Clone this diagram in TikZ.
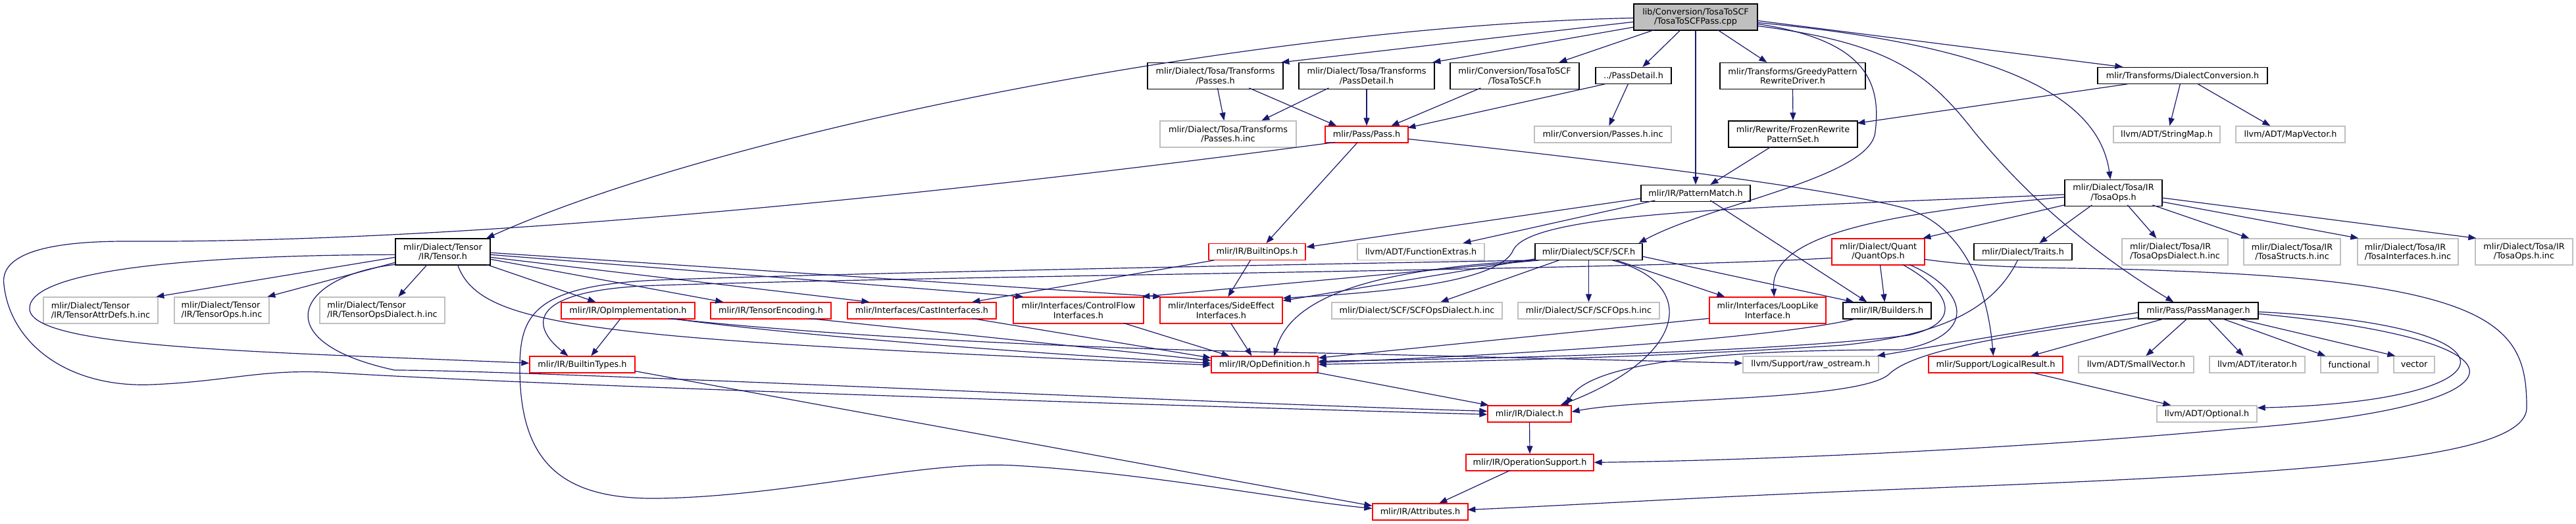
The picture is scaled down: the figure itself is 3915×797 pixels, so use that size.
\documentclass[tikz,border=0pt]{standalone}
\usepackage{fontspec}
\setmainfont{DejaVu Sans}
\usetikzlibrary{calc,arrows.meta}
\definecolor{edgeblue}{HTML}{191970}
\definecolor{extgray}{HTML}{BFBFBF}
\definecolor{rootgray}{HTML}{BFBFBF}
\newcommand\dgfont{\fontsize{12.8pt}{14.5pt}\selectfont}
\begin{document}
\begin{tikzpicture}[x=1pt,y=-1pt,
  nb/.style={rectangle, inner sep=0pt, line width=1.3pt, font=\dgfont, align=center},
  doc/.style={nb, draw=black},
  trunc/.style={nb, draw=red},
  ext/.style={nb, draw=extgray},
  rootn/.style={nb, draw=black, fill=rootgray},
  hone/.style={minimum height=25pt},
  htwo/.style={minimum height=40pt},
  ed/.style={draw=edgeblue, line width=1.2pt, -{Triangle[length=12pt,width=9pt]}}]
\fill[white] (0,0) rectangle (3915,797);
\useasboundingbox (0,0) rectangle (3915,797);

% ---------- nodes ----------
\node[rootn,htwo,minimum width=188pt] (root) at (2577,26) {lib/Conversion/TosaToSCF\\/TosaToSCFPass.cpp};
\node[doc,htwo,minimum width=206pt] (tpasses) at (1847,115.5) {mlir/Dialect/Tosa/Transforms\\/Passes.h};
\node[doc,htwo,minimum width=206pt] (tpassdetail) at (2077,115.5) {mlir/Dialect/Tosa/Transforms\\/PassDetail.h};
\node[doc,htwo,minimum width=196pt] (tosatoscf) at (2302,115.5) {mlir/Conversion/TosaToSCF\\/TosaToSCF.h};
\node[doc,hone,minimum width=115pt] (cpassdetail) at (2482.5,115) {../PassDetail.h};
\node[doc,htwo,minimum width=221pt] (greedy) at (2724.5,115.5) {mlir/Transforms/GreedyPattern\\RewriteDriver.h};
\node[doc,hone,minimum width=258pt] (dialconv) at (3317,115) {mlir/Transforms/DialectConversion.h};
\node[ext,htwo,minimum width=207pt] (tpassesinc) at (1866.5,204) {mlir/Dialect/Tosa/Transforms\\/Passes.h.inc};
\node[trunc,hone,minimum width=126pt] (pass) at (2077,204.5) {mlir/Pass/Pass.h};
\node[ext,hone,minimum width=208pt] (cpassesinc) at (2436,204.5) {mlir/Conversion/Passes.h.inc};
\node[doc,htwo,minimum width=196pt] (frozen) at (2725,204) {mlir/Rewrite/FrozenRewrite\\PatternSet.h};
\node[ext,hone,minimum width=162pt] (stringmap) at (3293,204.5) {llvm/ADT/StringMap.h};
\node[ext,hone,minimum width=166pt] (mapvector) at (3481,204.5) {llvm/ADT/MapVector.h};
\node[doc,hone,minimum width=166pt] (patternmatch) at (2577,294) {mlir/IR/PatternMatch.h};
\node[doc,htwo,minimum width=148pt] (tosaops) at (3212,293.5) {mlir/Dialect/Tosa/IR\\/TosaOps.h};
\node[doc,htwo,minimum width=144pt] (tensor) at (673,383) {mlir/Dialect/Tensor\\/IR/Tensor.h};
\node[trunc,hone,minimum width=147pt] (builtinops) at (1910.5,383) {mlir/IR/BuiltinOps.h};
\node[ext,hone,minimum width=193pt] (funcextras) at (2159.5,383) {llvm/ADT/FunctionExtras.h};
\node[doc,hone,minimum width=163pt] (scf) at (2414.5,383) {mlir/Dialect/SCF/SCF.h};
\node[trunc,htwo,minimum width=141pt] (quantops) at (2854.5,383) {mlir/Dialect/Quant\\/QuantOps.h};
\node[doc,hone,minimum width=149pt] (traits) at (3074.5,383) {mlir/Dialect/Traits.h};
\node[ext,htwo,minimum width=161pt,align=left] (tosaopsdialinc) at (3305.5,383) {mlir/Dialect/Tosa/IR\\/TosaOpsDialect.h.inc};
\node[ext,htwo,minimum width=147pt] (tosastructsinc) at (3483.5,383) {mlir/Dialect/Tosa/IR\\/TosaStructs.h.inc};
\node[ext,htwo,minimum width=153pt,align=left] (tosaifinc) at (3659.5,383) {mlir/Dialect/Tosa/IR\\/TosaInterfaces.h.inc};
\node[ext,htwo,minimum width=148pt] (tosaopsinc) at (3836,383) {mlir/Dialect/Tosa/IR\\/TosaOps.h.inc};
\node[ext,htwo,minimum width=174pt,align=left] (tattrdefsinc) at (153,472) {mlir/Dialect/Tensor\\/IR/TensorAttrDefs.h.inc};
\node[ext,htwo,minimum width=144pt,align=left] (topsinc) at (337,472) {mlir/Dialect/Tensor\\/IR/TensorOps.h.inc};
\node[ext,htwo,minimum width=190pt,align=left] (topsdialinc) at (581,472) {mlir/Dialect/Tensor\\/IR/TensorOpsDialect.h.inc};
\node[trunc,hone,minimum width=203pt] (opimpl) at (954.5,472.5) {mlir/IR/OpImplementation.h};
\node[trunc,hone,minimum width=183pt] (tensorenc) at (1171.5,472.5) {mlir/IR/TensorEncoding.h};
\node[trunc,hone,minimum width=226pt] (castif) at (1401,472.5) {mlir/Interfaces/CastInterfaces.h};
\node[trunc,htwo,minimum width=198pt] (cfif) at (1639,472) {mlir/Interfaces/ControlFlow\\Interfaces.h};
\node[trunc,htwo,minimum width=186pt] (seif) at (1856,472) {mlir/Interfaces/SideEffect\\Interfaces.h};
\node[ext,hone,minimum width=259pt] (scfdialinc) at (2153.5,472.5) {mlir/Dialect/SCF/SCFOpsDialect.h.inc};
\node[ext,hone,minimum width=215pt] (scfopsinc) at (2414.5,472.5) {mlir/Dialect/SCF/SCFOps.h.inc};
\node[trunc,htwo,minimum width=177pt] (looplike) at (2686.5,472) {mlir/Interfaces/LoopLike\\Interface.h};
\node[doc,hone,minimum width=134pt] (builders) at (2868,472.5) {mlir/IR/Builders.h};
\node[doc,hone,minimum width=182pt] (passmanager) at (3341,472.5) {mlir/Pass/PassManager.h};
\node[trunc,hone,minimum width=160pt] (builtintypes) at (885,554.5) {mlir/IR/BuiltinTypes.h};
\node[trunc,hone,minimum width=162pt] (opdef) at (1922,554.5) {mlir/IR/OpDefinition.h};
\node[ext,hone,minimum width=206pt] (rawostream) at (2752,554.5) {llvm/Support/raw\_ostream.h};
\node[trunc,hone,minimum width=204pt] (logicalresult) at (3033,554.5) {mlir/Support/LogicalResult.h};
\node[ext,hone,minimum width=175pt] (smallvector) at (3246.5,554.5) {llvm/ADT/SmallVector.h};
\node[ext,hone,minimum width=145pt] (iterator) at (3430.5,554.5) {llvm/ADT/iterator.h};
\node[ext,hone,minimum width=87pt] (functional) at (3570.5,554.5) {functional};
\node[ext,hone,minimum width=62pt] (vector) at (3669,554.5) {vector};
\node[trunc,hone,minimum width=127pt] (dialect) at (2324.5,629.5) {mlir/IR/Dialect.h};
\node[ext,hone,minimum width=152pt] (optional) at (3354,629.5) {llvm/ADT/Optional.h};
\node[trunc,hone,minimum width=194pt] (opsupport) at (2325,703.5) {mlir/IR/OperationSupport.h};
\node[trunc,hone,minimum width=145pt] (attributes) at (2158.5,778.5) {mlir/IR/Attributes.h};

% ---------- edges: root ----------
\draw[ed] ($(root.north west)+(0,22)$) .. controls (1900,40) and (1100,200) .. ($(tensor.north west)+(139,0)$);
\draw[ed] ($(root.north west)+(0,28)$) -- ($(tpasses.north west)+(204,0)$);
\draw[ed] ($(root.north west)+(0,36)$) -- ($(tpassdetail.north west)+(204,0)$);
\draw[ed] ($(root.north west)+(32,40)$) -- ($(tosatoscf.north west)+(166,0)$);
\draw[ed] ($(root.north west)+(72,40)$) -- ($(cpassdetail.north west)+(72,0)$);
\draw[ed] (root.south) -- (patternmatch.north);
\draw[ed] ($(root.north west)+(128,40)$) -- ($(greedy.north west)+(72,0)$);
\draw[ed] ($(root.north west)+(188,26)$) -- ($(dialconv.north west)+(39,0)$);
\draw[ed] ($(root.north west)+(188,29)$) .. controls (3050,70) and (3190,150) .. ($(tosaops.north west)+(70,0)$);
\draw[ed] ($(root.north west)+(188,34)$) .. controls (2870,65) and (2930,110) .. (3000,200) .. controls (3090,310) and (3190,390) .. ($(passmanager.north west)+(54,0)$);
\draw[ed] ($(root.north west)+(188,31)$) .. controls (2830,60) and (2860,120) .. (2850,200) .. controls (2845,270) and (2600,310) .. ($(scf.north west)+(158,0)$);

% ---------- row 1 ----------
\draw[ed] ($(tpasses.north west)+(107,39)$) -- ($(tpassesinc.north west)+(98,0)$);
\draw[ed] ($(tpasses.north west)+(155,39)$) -- ($(pass.north west)+(18,0)$);
\draw[ed] ($(tpassdetail.north west)+(46,39)$) -- ($(tpassesinc.north west)+(155,0)$);
\draw[ed] (tpassdetail.south) -- (pass.north);
\draw[ed] ($(tosatoscf.north west)+(47,39)$) -- ($(pass.north west)+(101,0)$);
\draw[ed] ($(cpassdetail.north west)+(15,26)$) -- ($(pass.north west)+(126,3)$);
\draw[ed] ($(cpassdetail.north west)+(50,26)$) -- ($(cpassesinc.north west)+(114,0)$);
\draw[ed] (greedy.south) -- (frozen.north);
\draw[ed] ($(dialconv.north west)+(46,26)$) -- ($(frozen.north west)+(196,4)$);
\draw[ed] ($(dialconv.north west)+(126,26)$) -- ($(stringmap.north west)+(86,0)$);
\draw[ed] ($(dialconv.north west)+(153,26)$) -- ($(mapvector.north west)+(53,0)$);
\draw[ed] ($(frozen.north west)+(65,40)$) -- ($(patternmatch.north west)+(106,0)$);

% ---------- Pass.h ----------
\draw[ed] ($(pass.north west)+(50,25)$) -- ($(builtinops.north west)+(88,0)$);
\draw[ed] ($(pass.north west)+(126,20)$) .. controls (2500,250) and (2800,290) .. (2900,318) .. controls (2980,345) and (3020,430) .. ($(logicalresult.north west)+(99,0)$);
\draw[ed] ($(pass.north west)+(16,25)$) .. controls (1400,300) and (700,370) .. (191,367) .. controls (60,367) and (0,390) .. (6,433) .. controls (15,520) and (100,590) .. (230,585) .. controls (350,580) and (400,560) .. (510,567) .. controls (800,585) and (1700,615) .. ($(dialect.north west)+(0,14)$);

% ---------- Tensor.h ----------
\draw[ed] ($(tensor.north west)+(0,29)$) -- ($(tattrdefsinc.north west)+(172,0)$);
\draw[ed] ($(tensor.north west)+(0,37)$) -- ($(topsinc.north west)+(142,0)$);
\draw[ed] ($(tensor.north west)+(49,40)$) -- ($(topsdialinc.north west)+(120,0)$);
\draw[ed] ($(tensor.north west)+(0,40)$) .. controls (450,420) and (400,520) .. (600,563) .. controls (800,563) and (1800,612) .. ($(dialect.north west)+(0,9)$);
\draw[ed] ($(tensor.north west)+(0,25)$) .. controls (300,388) and (42,410) .. (45,470) .. controls (48,530) and (400,535) .. ($(builtintypes.north west)+(0,11)$);
\draw[ed] ($(tensor.north west)+(139,40)$) -- ($(opimpl.north west)+(53,0)$);
\draw[ed] ($(tensor.north east)+(0,32)$) -- ($(tensorenc.north west)+(20,0)$);
\draw[ed] ($(tensor.north east)+(0,29)$) -- ($(castif.north west)+(34,0)$);
\draw[ed] ($(tensor.north east)+(0,25)$) -- ($(cfif.north west)+(16,0)$);
\draw[ed] ($(tensor.north east)+(0,22)$) -- ($(seif.north west)+(2,0)$);
\draw[ed] ($(tensor.north west)+(95,40)$) .. controls (730,500) and (900,515) .. ($(opdef.north west)+(0,14)$);

% ---------- interfaces / IR ----------
\draw[ed] ($(opimpl.north west)+(91,25)$) -- ($(builtintypes.north west)+(94,0)$);
\draw[ed] ($(opimpl.north west)+(168,25)$) .. controls (1200,510) and (1600,540) .. ($(opdef.north west)+(0,11)$);
\draw[ed] ($(opimpl.north west)+(163,25)$) .. controls (1300,515) and (1700,532) .. (2010,537) -- ($(rawostream.north west)+(0,11)$);
\draw[ed] ($(tensorenc.north west)+(150,25)$) -- ($(opdef.north west)+(0,7)$);
\draw[ed] ($(castif.north west)+(190,25)$) -- ($(opdef.north west)+(0,3)$);
\draw[ed] ($(cfif.north west)+(168,40)$) -- ($(opdef.north west)+(28,0)$);
\draw[ed] ($(seif.north west)+(108,40)$) -- ($(opdef.north west)+(62,0)$);
\draw[ed] ($(builtinops.north west)+(9,26)$) -- ($(castif.north west)+(190,0)$);
\draw[ed] ($(builtinops.north west)+(64,26)$) -- ($(seif.north west)+(104,0)$);

% ---------- PatternMatch.h ----------
\draw[ed] ($(patternmatch.north west)+(0,21)$) -- ($(builtinops.north west)+(149,6)$);
\draw[ed] ($(patternmatch.north west)+(22,24)$) -- ($(funcextras.north west)+(161,0)$);
\draw[ed] ($(patternmatch.north west)+(106,24)$) -- ($(builders.north west)+(37,0)$);

% ---------- SCF.h ----------
\draw[ed] ($(scf.north west)+(37,26)$) -- ($(scfdialinc.north west)+(166,0)$);
\draw[ed] (scf.south) -- (scfopsinc.north);
\draw[ed] ($(scf.north west)+(124,26)$) -- ($(looplike.north west)+(24,0)$);
\draw[ed] ($(scf.north west)+(163,20)$) -- ($(builders.north west)+(17,0)$);
\draw[ed] ($(scf.north west)+(118,26)$) .. controls (2580,430) and (2570,540) .. ($(dialect.north west)+(111,0)$);
\draw[ed] ($(scf.north west)+(7,26)$) -- ($(cfif.north west)+(196,0)$);
\draw[ed] ($(scf.north west)+(0,24)$) -- ($(seif.north east)+(0,6)$);
\draw[ed] ($(scf.north west)+(3,26)$) .. controls (2060,410) and (1960,460) .. ($(opdef.north west)+(96,0)$);
\draw[ed] ($(scf.north west)+(0,26)$) .. controls (1800,405) and (1200,418) .. (1000,426) .. controls (810,434) and (790,480) .. (790,560) .. controls (790,700) and (850,760) .. (1000,758) .. controls (1200,755) and (1400,700) .. (1542,708) .. controls (1750,720) and (1950,760) .. ($(attributes.north west)+(0,8)$);

% ---------- QuantOps.h ----------
\draw[ed] ($(quantops.north west)+(0,30)$) .. controls (2500,410) and (1500,418) .. (1000,434) .. controls (800,440) and (805,495) .. ($(builtintypes.north west)+(59,0)$);
\draw[ed] ($(quantops.north west)+(141,32)$) .. controls (3050,412) and (3150,405) .. (3300,412) .. controls (3800,430) and (3840,500) .. (3840,620) .. controls (3840,700) and (3500,720) .. (2915,743) .. controls (2600,755) and (2400,768) .. ($(attributes.north west)+(145,10)$);
\draw[ed] ($(quantops.north west)+(74,40)$) -- ($(builders.north west)+(64,0)$);
\draw[ed] ($(quantops.north west)+(108,40)$) .. controls (2960,440) and (2990,490) .. (2900,510) .. controls (2700,535) and (2300,545) .. ($(opdef.north east)+(0,8)$);
\draw[ed] ($(quantops.north west)+(118,40)$) .. controls (2990,440) and (3010,510) .. (2890,532) .. controls (2700,532) and (2420,540) .. ($(dialect.north west)+(120,0)$);

% ---------- TosaOps.h ----------
\draw[ed] ($(tosaops.north west)+(0,39)$) -- ($(quantops.north west)+(139,0)$);
\draw[ed] ($(tosaops.north west)+(42,39)$) -- ($(traits.north west)+(100,0)$);
\draw[ed] ($(tosaops.north west)+(96,39)$) -- ($(tosaopsdialinc.north west)+(53,0)$);
\draw[ed] ($(tosaops.north west)+(134,39)$) -- ($(tosastructsinc.north west)+(9,0)$);
\draw[ed] ($(tosaops.north west)+(148,34)$) -- ($(tosaifinc.north west)+(2,0)$);
\draw[ed] ($(tosaops.north west)+(148,28)$) -- ($(tosaopsinc.north west)+(2,0)$);
\draw[ed] ($(tosaops.north west)+(0,27)$) .. controls (2850,325) and (2690,360) .. ($(looplike.north west)+(99,0)$);
\draw[ed] ($(tosaops.north west)+(0,23)$) .. controls (2700,315) and (2330,320) .. (2300,380) .. controls (2280,430) and (2100,445) .. ($(seif.north east)+(0,2)$);

% ---------- Traits / LoopLike / Builders ----------
\draw[ed] ($(traits.north west)+(67,26)$) .. controls (3030,470) and (2950,510) .. (2800,525) .. controls (2500,545) and (2200,550) .. ($(opdef.north east)+(0,13)$);
\draw[ed] ($(looplike.north west)+(0,33)$) -- ($(opdef.north east)+(0,3)$);
\draw[ed] ($(builders.north west)+(22,25)$) .. controls (2700,515) and (2300,540) .. ($(opdef.north east)+(0,10)$);

% ---------- PassManager.h ----------
\draw[ed] ($(passmanager.north west)+(41,25)$) -- ($(logicalresult.north west)+(156,0)$);
\draw[ed] ($(passmanager.north west)+(75,25)$) -- ($(smallvector.north west)+(103,0)$);
\draw[ed] ($(passmanager.north west)+(106,25)$) -- ($(iterator.north west)+(52,0)$);
\draw[ed] ($(passmanager.north west)+(127,25)$) -- ($(functional.north west)+(8,0)$);
\draw[ed] ($(passmanager.north west)+(150,25)$) -- ($(vector.north west)+(3,0)$);
\draw[ed] ($(passmanager.north east)+(0,15)$) .. controls (3850,495) and (3830,610) .. ($(optional.north east)+(0,4)$);
\draw[ed] ($(passmanager.north east)+(0,18)$) .. controls (3880,520) and (3850,620) .. (3400,652) .. controls (3100,680) and (2700,700) .. ($(opsupport.north east)+(0,13)$);
\draw[ed] ($(passmanager.north west)+(0,16)$) .. controls (3100,500) and (2950,525) .. ($(rawostream.north east)+(-3,0)$);
\draw[ed] ($(passmanager.north west)+(0,24)$) .. controls (3000,515) and (2900,540) .. (2870,570) .. controls (2820,610) and (2500,605) .. ($(dialect.north east)+(0,10)$);

% ---------- lower chain ----------
\draw[ed] ($(logicalresult.north west)+(156,25)$) -- ($(optional.north west)+(22,0)$);
\draw[ed] ($(opdef.north west)+(159,25)$) -- ($(dialect.north west)+(2,0)$);
\draw[ed] (dialect.south) -- (opsupport.north);
\draw[ed] ($(opsupport.north west)+(68,25)$) -- ($(attributes.north west)+(102,0)$);
\draw[ed] ($(builtintypes.north west)+(160,23)$) -- ($(attributes.north west)+(0,4)$);
\end{tikzpicture}
\end{document}
